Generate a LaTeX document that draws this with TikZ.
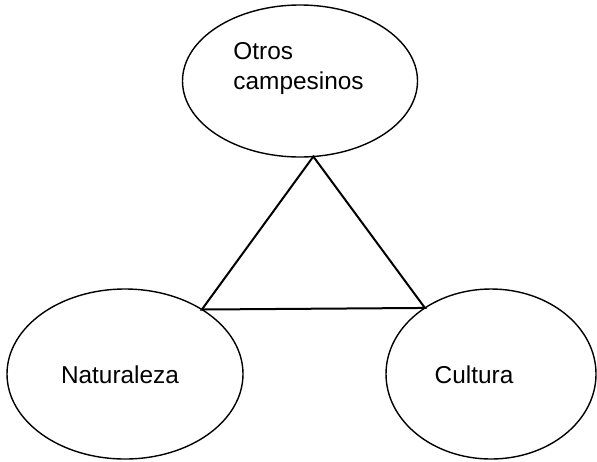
\documentclass[tikz,border=0pt]{standalone}
\usepackage{fontspec}
\setmainfont{Liberation Sans}
\usetikzlibrary{shapes.geometric}

\begin{document}
\begin{tikzpicture}[x=0.5pt,y=-0.5pt,
    oval/.style={draw,ellipse,inner sep=0pt,outer sep=0pt,line width=0.7pt},
    txt/.style={font=\fontsize{12.2}{15}\selectfont,inner sep=0pt}]
    \useasboundingbox (0,0) rectangle (597,461);

    % 三个椭圆
    \node[oval,minimum width=117.5pt,minimum height=76pt] (otros) at (300,81) {};
    \node[oval,minimum width=118pt,minimum height=85pt] (natur) at (125,374) {};
    \node[oval,minimum width=105pt,minimum height=85pt] (cult) at (491,374) {};

    % 文字
    \node[txt,anchor=north west,align=left] (totros) at (233,42) {Otros\\campesinos};
    \node[txt,anchor=base] (tnatur) at (120,383) {Naturaleza};
    \node[txt,anchor=base] (tcult) at (474,383) {Cultura};

    % 三角形
    \draw[line width=1pt] (otros.280) -- (natur.40) -- (cult.135) -- cycle;

\end{tikzpicture}
\end{document}
